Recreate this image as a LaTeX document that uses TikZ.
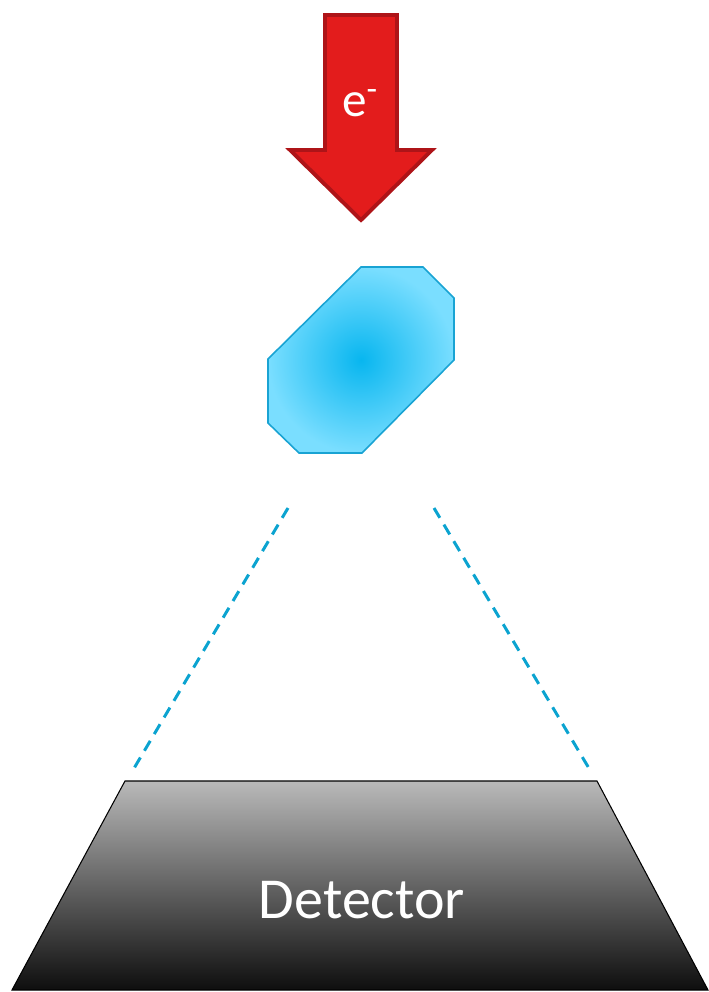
\documentclass[tikz,border=0pt]{standalone}
\usepackage{fontspec}
\setmainfont{Carlito}
\usepackage{xcolor}
\usepackage{tikz}
\usetikzlibrary{calc}
\definecolor{cBeam}{HTML}{E31C1C}
\definecolor{cBeamD}{HTML}{AE1418}
\definecolor{cXtal}{HTML}{08B6EF}
\definecolor{cXtalL}{HTML}{7ADEFF}
\definecolor{cXtalE}{HTML}{19A3D3}
\definecolor{cCone}{HTML}{0BA3D0}
\definecolor{cDetT}{HTML}{B9B9B9}
\definecolor{cDetM}{HTML}{858585}
\definecolor{cDetB}{HTML}{0E0E0E}
\tikzset{beam/.style={fill=cBeam,draw=cBeamD,line width=2.2pt,line join=miter},
  xtal/.style={inner color=cXtal,outer color=cXtalL,draw=cXtalE,line width=0.9pt},
  cone/.style={draw=cCone,line width=1.7pt,dash pattern=on 6.5pt off 4.5pt},
  det/.style={top color=cDetT,middle color=cDetM,bottom color=cDetB,draw=black,line width=0.6pt},
  lbl/.style={text=white,inner sep=0pt}}

\begin{document}
\begin{tikzpicture}[x=0.02cm,y=-0.02cm]
  \useasboundingbox (0,0) rectangle (708,992);
  % electron beam
  \draw[beam] (325,15) -- (397,15) -- (397,150) -- (432,150) -- (361,220)
    -- (290,150) -- (325,150) -- cycle;
  \node[lbl,font=\fontsize{28}{30}\selectfont] (elec) at (360,103) {e\textsuperscript{-}};
  % crystal
  \shade[xtal] (361,267) -- (423,267) -- (454,298) -- (454,360) -- (362,453)
    -- (299,453) -- (268,423) -- (268,359) -- cycle;
  \coordinate (xl) at (288,508);
  \coordinate (xr) at (434,508);
  \coordinate (dl) at (133,770);
  \coordinate (dr) at (590,770);
  \draw[cone] (xl) -- (dl);
  \draw[cone] (xr) -- (dr);
  % detector
  \shade[det] (125,781) -- (597,781) -- (708,990) -- (12,990) -- cycle;
  \node[lbl,font=\fontsize{33}{36}\selectfont] (det) at (362,900) {Detector};
\end{tikzpicture}
\end{document}
